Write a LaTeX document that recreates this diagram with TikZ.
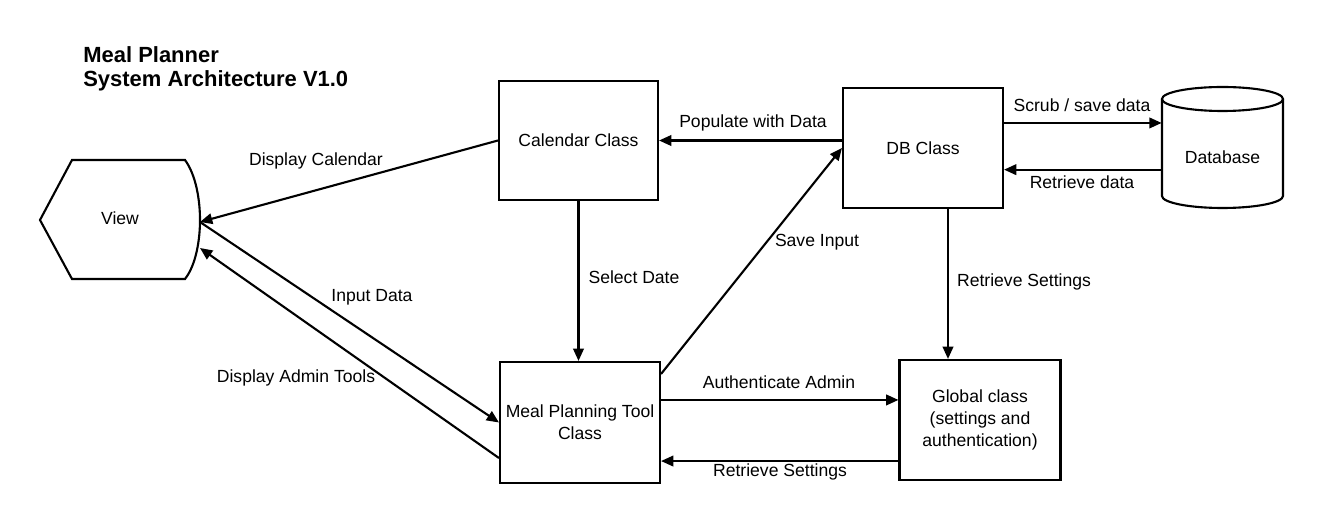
\documentclass[tikz,border=0pt]{standalone}
\usepackage{fontspec}
\setmainfont{Liberation Sans}
\usetikzlibrary{arrows.meta,calc}
\begin{document}
\begin{tikzpicture}[x=0.02cm,y=-0.02cm,
  every node/.style={font=\fontsize{10}{12.5}\selectfont},
  box/.style={draw,line width=1.2pt,minimum width=3.2cm,minimum height=2.4cm,align=center,inner sep=2pt},
  arr/.style={line width=1.2pt,-{Triangle[length=7pt,width=6pt]}},
  lbl/.style={inner sep=1pt},
  ttl/.style={font=\fontsize{12.5}{15}\selectfont\bfseries,anchor=base west,inner sep=0pt}]
\useasboundingbox[fill=white] (0,0) rectangle (1323,526);

% title
\node[ttl] (t1) at (83,63) {Meal Planner};
\node[ttl] (t2) at (83,87) {System Architecture V1.0};

% view shape
\draw[line width=1.2pt,fill=white] (40,220) -- (72,160) -- (185,160)
  .. controls (196,175) and (200,200) .. (200,220)
  .. controls (200,240) and (196,265) .. (185,279) -- (72,279) -- cycle;
\node (view) at (120,218) {View};
\coordinate (v1) at (200,222);
\coordinate (v2) at (200,248);

% boxes
\node[box,minimum width=3.18cm,minimum height=2.38cm] (cal) at (578.5,140.5) {Calendar Class};
\node[box] (db) at (923,148) {DB Class};
\node[box,minimum height=2.42cm] (meal) at (580,422.5) {Meal Planning Tool\\Class};
\node[box,minimum width=3.22cm] (glob) at (980,420) {Global class\\(settings and\\authentication)};

% database cylinder
\draw[line width=1.2pt,fill=white] (1162,99) -- (1162,196)
  arc[start angle=180,end angle=360,x radius=1.21cm,y radius=0.24cm]
  -- (1283,99);
\draw[line width=1.2pt,fill=white] (1222.5,99) ellipse[x radius=1.21cm,y radius=0.24cm];
\node[minimum width=2.42cm,minimum height=2.42cm] (database) at (1222.5,147.5) {};
\node at (1222.5,157) {Database};

% helper coordinates
\coordinate (rs1) at ($(db.south)+(25,0)$);
\coordinate (sv1) at ($(meal.north east)+(0,13)$);
\coordinate (au1) at ($(meal.north east)+(0,39)$);
\coordinate (rt1) at ($(glob.south west)+(0,-20)$);
\coordinate (da1) at ($(meal.south west)+(0,-26)$);
\coordinate (sc1) at ($(db.north east)+(0,36)$);
\coordinate (rd1) at ($(database.north west)+(0,83)$);

% connectors
\draw[arr] (cal.west) -- (v1);
\draw[arr] (v1) -- (meal.west);
\draw[arr] (da1) -- (v2);
\draw[arr] (db.west |- cal.east) -- (cal.east);
\draw[arr] (cal.south) -- (cal.south |- meal.north);
\draw[arr] (sv1) -- (db.west);
\draw[arr] (sc1) -- (sc1 -| database.west);
\draw[arr] (rd1) -- (rd1 -| db.east);
\draw[arr] (rs1) -- (rs1 |- glob.north);
\draw[arr] (au1) -- (au1 -| glob.west);
\draw[arr] (rt1) -- (rt1 -| meal.east);

% labels
\node[lbl] (l1) at (316,161) {Display Calendar};
\node[lbl] (l2) at (372,297) {Input Data};
\node[lbl] (l3) at (296,378) {Display Admin Tools};
\node[lbl] (l4) at (753,123) {Populate with Data};
\node[lbl] (l5) at (634,277) {Select Date};
\node[lbl] (l6) at (817,242) {Save Input};
\node[lbl] (l7) at (1082,105) {Scrub / save data};
\node[lbl] (l8) at (1082,182) {Retrieve data};
\node[lbl] (l9) at (1024,282) {Retrieve Settings};
\node[lbl] (l10) at (779,382) {Authenticate Admin};
\node[lbl] (l11) at (780,472) {Retrieve Settings};
\end{tikzpicture}
\end{document}
